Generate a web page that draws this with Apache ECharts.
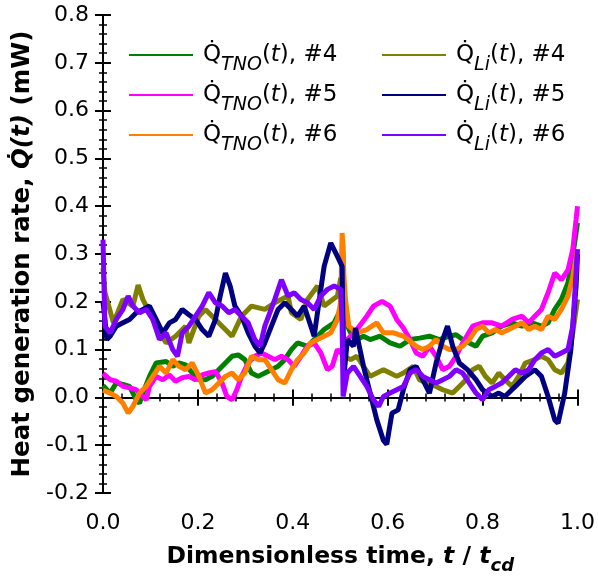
<!DOCTYPE html>
<html>
<head>
<meta charset="utf-8">
<script src="https://cdn.jsdelivr.net/npm/echarts@6/dist/echarts.min.js"></script>
<style>
  html, body { margin: 0; padding: 0; background: #fff; }
  #chart { width: 598px; height: 580px; }
</style>
</head>
<body>
<div id="chart"></div>
<script>
// values, [t / t_cd, Q (mW)]
var tno4 = [[0,0.025],[0.004,0.023],[0.015,0.009],[0.028,0.03],[0.042,0.027],[0.056,0.023],[0.07,-0.005],[0.077,-0.012],[0.084,0.009],[0.098,0.044],[0.112,0.072],[0.133,0.075],[0.147,0.065],[0.16,0.072],[0.174,0.068],[0.188,0.051],[0.202,0.037],[0.216,0.037],[0.23,0.044],[0.244,0.058],[0.258,0.072],[0.272,0.086],[0.285,0.089],[0.299,0.079],[0.313,0.051],[0.327,0.044],[0.341,0.051],[0.355,0.058],[0.369,0.065],[0.383,0.079],[0.397,0.1],[0.41,0.114],[0.431,0.107],[0.452,0.128],[0.466,0.142],[0.487,0.156],[0.501,0.184],[0.505,0.33],[0.508,0.2],[0.515,0.15],[0.522,0.135],[0.535,0.121],[0.549,0.128],[0.563,0.121],[0.584,0.128],[0.605,0.114],[0.626,0.107],[0.647,0.121],[0.667,0.124],[0.688,0.128],[0.709,0.121],[0.73,0.128],[0.744,0.131],[0.758,0.121],[0.772,0.114],[0.786,0.107],[0.8,0.128],[0.82,0.135],[0.84,0.149],[0.862,0.156],[0.883,0.149],[0.904,0.156],[0.924,0.149],[0.938,0.156],[0.952,0.184],[0.966,0.205],[0.98,0.24],[0.994,0.323],[1.0,0.365]];
var tno5 = [[0,0.05],[0.004,0.051],[0.015,0.037],[0.028,0.034],[0.042,0.023],[0.056,0.02],[0.07,0.016],[0.084,0.002],[0.091,-0.005],[0.098,0.023],[0.112,0.044],[0.126,0.037],[0.14,0.047],[0.153,0.034],[0.167,0.041],[0.181,0.044],[0.195,0.037],[0.209,0.047],[0.223,0.051],[0.237,0.054],[0.251,0.03],[0.261,0.002],[0.272,-0.005],[0.282,0.016],[0.292,0.044],[0.306,0.072],[0.32,0.086],[0.334,0.093],[0.348,0.086],[0.362,0.079],[0.376,0.086],[0.39,0.079],[0.403,0.065],[0.417,0.086],[0.431,0.107],[0.445,0.114],[0.459,0.093],[0.473,0.058],[0.483,0.065],[0.494,0.1],[0.501,0.093],[0.508,0.1],[0.515,0.121],[0.535,0.142],[0.556,0.17],[0.57,0.191],[0.588,0.201],[0.605,0.191],[0.619,0.163],[0.633,0.145],[0.647,0.121],[0.66,0.093],[0.674,0.086],[0.688,0.107],[0.702,0.086],[0.716,0.058],[0.73,0.065],[0.744,0.086],[0.758,0.114],[0.779,0.149],[0.8,0.156],[0.82,0.156],[0.84,0.149],[0.862,0.163],[0.883,0.17],[0.897,0.156],[0.91,0.17],[0.924,0.184],[0.938,0.219],[0.952,0.26],[0.966,0.246],[0.98,0.267],[0.99,0.309],[0.997,0.372],[1.0,0.4]];
var tno6 = [[0,0.015],[0.004,0.013],[0.015,0.009],[0.028,0.002],[0.042,-0.012],[0.053,-0.033],[0.063,-0.019],[0.077,0.009],[0.091,0.023],[0.105,0.044],[0.119,0.065],[0.133,0.051],[0.147,0.079],[0.16,0.065],[0.174,0.058],[0.188,0.072],[0.202,0.044],[0.216,0.009],[0.23,0.016],[0.244,0.03],[0.258,0.044],[0.272,0.051],[0.285,0.037],[0.299,0.051],[0.313,0.086],[0.327,0.079],[0.341,0.079],[0.355,0.058],[0.369,0.037],[0.383,0.03],[0.397,0.058],[0.41,0.079],[0.424,0.093],[0.438,0.114],[0.452,0.121],[0.466,0.128],[0.48,0.135],[0.494,0.163],[0.501,0.2],[0.504,0.344],[0.508,0.25],[0.511,0.205],[0.518,0.149],[0.535,0.135],[0.556,0.142],[0.577,0.156],[0.591,0.135],[0.612,0.135],[0.633,0.128],[0.643,0.121],[0.66,0.107],[0.674,0.1],[0.688,0.107],[0.702,0.121],[0.716,0.107],[0.73,0.1],[0.744,0.1],[0.758,0.107],[0.772,0.121],[0.786,0.142],[0.8,0.149],[0.813,0.135],[0.827,0.142],[0.84,0.135],[0.855,0.142],[0.869,0.149],[0.883,0.156],[0.897,0.142],[0.91,0.149],[0.924,0.142],[0.938,0.17],[0.952,0.163],[0.966,0.184],[0.98,0.212],[0.99,0.253],[1.0,0.309]];
var li4 = [[0,0.27],[0.004,0.22],[0.022,0.156],[0.042,0.205],[0.063,0.191],[0.074,0.235],[0.084,0.205],[0.112,0.149],[0.133,0.114],[0.153,0.128],[0.174,0.149],[0.181,0.114],[0.202,0.17],[0.216,0.184],[0.251,0.149],[0.272,0.128],[0.292,0.17],[0.313,0.191],[0.341,0.184],[0.362,0.198],[0.39,0.212],[0.397,0.177],[0.417,0.163],[0.431,0.205],[0.452,0.233],[0.466,0.191],[0.494,0.212],[0.501,0.25],[0.504,0.23],[0.508,0.086],[0.522,0.079],[0.535,0.086],[0.549,0.065],[0.563,0.044],[0.577,0.051],[0.591,0.058],[0.605,0.051],[0.619,0.044],[0.633,0.051],[0.654,0.065],[0.667,0.037],[0.681,0.03],[0.702,0.023],[0.716,0.016],[0.737,0.009],[0.751,0.023],[0.765,0.037],[0.779,0.058],[0.793,0.065],[0.806,0.044],[0.82,0.03],[0.834,0.051],[0.847,0.037],[0.862,0.023],[0.876,0.044],[0.89,0.072],[0.91,0.079],[0.924,0.086],[0.938,0.079],[0.952,0.058],[0.966,0.051],[0.98,0.072],[0.99,0.135],[1.0,0.205]];
var li5 = [[0,0.2],[0.004,0.163],[0.008,0.121],[0.015,0.128],[0.028,0.149],[0.042,0.156],[0.056,0.163],[0.07,0.177],[0.084,0.184],[0.098,0.191],[0.112,0.163],[0.126,0.135],[0.14,0.156],[0.153,0.163],[0.167,0.184],[0.181,0.173],[0.195,0.163],[0.209,0.142],[0.223,0.128],[0.237,0.163],[0.247,0.212],[0.258,0.26],[0.268,0.233],[0.278,0.191],[0.292,0.17],[0.306,0.135],[0.32,0.107],[0.331,0.093],[0.341,0.114],[0.355,0.149],[0.369,0.184],[0.383,0.198],[0.397,0.184],[0.41,0.17],[0.424,0.191],[0.438,0.149],[0.445,0.128],[0.456,0.205],[0.466,0.274],[0.48,0.323],[0.494,0.295],[0.504,0.274],[0.507,0.037],[0.515,0.121],[0.528,0.107],[0.532,0.145],[0.549,0.065],[0.563,0.009],[0.577,-0.047],[0.591,-0.09],[0.598,-0.098],[0.609,-0.033],[0.622,-0.026],[0.633,0.016],[0.647,0.058],[0.66,0.065],[0.674,0.037],[0.688,0.009],[0.702,0.072],[0.716,0.121],[0.726,0.149],[0.737,0.107],[0.751,0.072],[0.768,0.058],[0.786,0.037],[0.8,0.016],[0.82,0.002],[0.834,0.009],[0.847,0.002],[0.869,0.023],[0.89,0.044],[0.91,0.058],[0.924,0.044],[0.938,0.002],[0.952,-0.047],[0.959,-0.054],[0.973,0.009],[0.986,0.1],[0.997,0.233],[1.0,0.3]];
var li6 = [[0,0.33],[0.004,0.149],[0.015,0.135],[0.028,0.163],[0.042,0.184],[0.053,0.212],[0.063,0.191],[0.077,0.177],[0.091,0.184],[0.105,0.163],[0.119,0.121],[0.133,0.135],[0.147,0.1],[0.157,0.086],[0.167,0.135],[0.181,0.149],[0.195,0.17],[0.209,0.191],[0.223,0.219],[0.237,0.198],[0.251,0.191],[0.265,0.177],[0.278,0.184],[0.292,0.17],[0.306,0.156],[0.32,0.121],[0.331,0.107],[0.341,0.149],[0.362,0.205],[0.376,0.246],[0.39,0.212],[0.403,0.219],[0.417,0.205],[0.431,0.198],[0.445,0.184],[0.459,0.212],[0.473,0.226],[0.487,0.233],[0.501,0.226],[0.504,0.15],[0.506,0.002],[0.515,0.051],[0.528,0.065],[0.542,0.044],[0.556,0.023],[0.57,-0.005],[0.581,-0.019],[0.591,0.002],[0.605,0.009],[0.619,0.016],[0.633,0.023],[0.647,0.051],[0.66,0.058],[0.674,0.044],[0.688,0.037],[0.702,0.03],[0.716,0.037],[0.73,0.044],[0.744,0.058],[0.758,0.051],[0.772,0.03],[0.786,0.009],[0.8,-0.005],[0.813,0.016],[0.827,0.023],[0.84,0.03],[0.855,0.044],[0.869,0.058],[0.883,0.051],[0.897,0.058],[0.91,0.079],[0.924,0.093],[0.938,0.1],[0.952,0.086],[0.966,0.093],[0.98,0.1],[0.99,0.149],[1.0,0.31]];

var seriesNames = ['TNO4', 'TNO5', 'TNO6', 'Li4', 'Li5', 'Li6'];
var seriesData = [tno4, tno5, tno6, li4, li5, li6];
var seriesColors = ['#008000', '#ff00ff', '#ff8000', '#808000', '#000080', '#8000ff'];
var legendLabels = {
  TNO4: '{q|Q\u0307}{s|TNO}{r|(}{i|t}{r|), #4}',
  TNO5: '{q|Q\u0307}{s|TNO}{r|(}{i|t}{r|), #5}',
  TNO6: '{q|Q\u0307}{s|TNO}{r|(}{i|t}{r|), #6}',
  Li4: '{q|Q\u0307}{s|Li}{r|(}{i|t}{r|), #4}',
  Li5: '{q|Q\u0307}{s|Li}{r|(}{i|t}{r|), #5}',
  Li6: '{q|Q\u0307}{s|Li}{r|(}{i|t}{r|), #6}'
};

var FONT = 'DejaVu Sans';
var myChart = echarts.init(document.getElementById('chart'));

var legendRich = {
  q: { fontSize: 23, lineHeight: 40, fontFamily: FONT, color: '#000' },
  r: { fontSize: 23, lineHeight: 40, fontFamily: FONT, color: '#000' },
  i: { fontSize: 23, lineHeight: 40, fontStyle: 'italic', fontFamily: FONT, color: '#000' },
  s: { fontSize: 19, lineHeight: 19, fontStyle: 'italic', padding: [21, 0, 0, 0], fontFamily: FONT, color: '#000' }
};

function makeLegend(names, left) {
  return {
    data: names,
    orient: 'vertical',
    left: left,
    top: 30,
    itemWidth: 64,
    itemHeight: 2,
    itemGap: 0,
    icon: 'rect',
    formatter: function (name) { return legendLabels[name]; },
    textStyle: { rich: legendRich, padding: [0, 0, 0, 5] }
  };
}

function valueAxis(extra) {
  return Object.assign({
    type: 'value',
    axisLine: { show: true, lineStyle: { color: '#000', width: 2 } },
    splitLine: { show: false },
    axisLabel: { show: false },
    axisTick: { show: true, inside: true, length: 8, lineStyle: { color: '#000', width: 2 } },
    minorTick: { show: true, splitNumber: 5, length: 4, lineStyle: { color: '#000', width: 1.5 } }
  }, extra);
}

var xr = { min: 0, max: 1, interval: 0.2 };
var yr = { min: -0.2, max: 0.8, interval: 0.1 };

var option = {
  animation: false,
  textStyle: { fontFamily: FONT },
  grid: { left: 103, right: 16, top: 15, bottom: 87 },
  legend: [makeLegend(['TNO4', 'TNO5', 'TNO6'], 124), makeLegend(['Li4', 'Li5', 'Li6'], 377)],
  xAxis: [
    valueAxis(Object.assign({}, xr, {
      position: 'bottom',
      axisTick: { show: true, inside: false, length: 8, lineStyle: { color: '#000', width: 2 } },
      minorTick: { show: false },
      axisLabel: { show: true, fontSize: 22, color: '#000', margin: 19, fontFamily: FONT,
        formatter: function (v) { return v.toFixed(1); } },
      name: 'Dimensionless time, {i|t} / {i|t}{s|cd}',
      nameLocation: 'middle',
      nameGap: 46,
      nameTextStyle: {
        fontSize: 23.5, fontWeight: 'bold', color: '#000', fontFamily: FONT,
        rich: {
          i: { fontSize: 23.5, fontWeight: 'bold', fontStyle: 'italic', fontFamily: FONT, lineHeight: 36 },
          s: { fontSize: 18, fontWeight: 'bold', fontStyle: 'italic', fontFamily: FONT, lineHeight: 18, padding: [18, 0, 0, 0] }
        }
      }
    })),
    valueAxis(Object.assign({}, xr, { position: 'bottom' })),
    valueAxis(Object.assign({}, xr, { position: 'top' }))
  ],
  yAxis: [
    valueAxis(Object.assign({}, yr, {
      position: 'left',
      axisTick: { show: true, inside: false, length: 8, lineStyle: { color: '#000', width: 2 } },
      minorTick: { show: false },
      axisLabel: { show: true, fontSize: 22, color: '#000', margin: 14, fontFamily: FONT,
        formatter: function (v) { return v.toFixed(1); } },
      name: 'Heat generation rate, {i|Q\u0307(t)} (mW)',
      nameLocation: 'middle',
      nameGap: 57,
      nameTextStyle: {
        fontSize: 24.5, fontWeight: 'bold', color: '#000', fontFamily: FONT,
        rich: { i: { fontSize: 24.5, fontWeight: 'bold', fontStyle: 'italic', fontFamily: FONT } }
      }
    })),
    valueAxis(Object.assign({}, yr, { position: 'left' })),
    valueAxis(Object.assign({}, yr, { position: 'right' }))
  ],
  series: seriesNames.map(function (name, i) {
    return {
      name: name,
      type: 'line',
      xAxisIndex: 0,
      yAxisIndex: 0,
      data: seriesData[i],
      showSymbol: false,
      symbol: 'none',
      color: seriesColors[i],
      lineStyle: { width: 5, color: seriesColors[i] },
      z: 2 + i
    };
  })
};

option && myChart.setOption(option);
</script>
</body>
</html>
